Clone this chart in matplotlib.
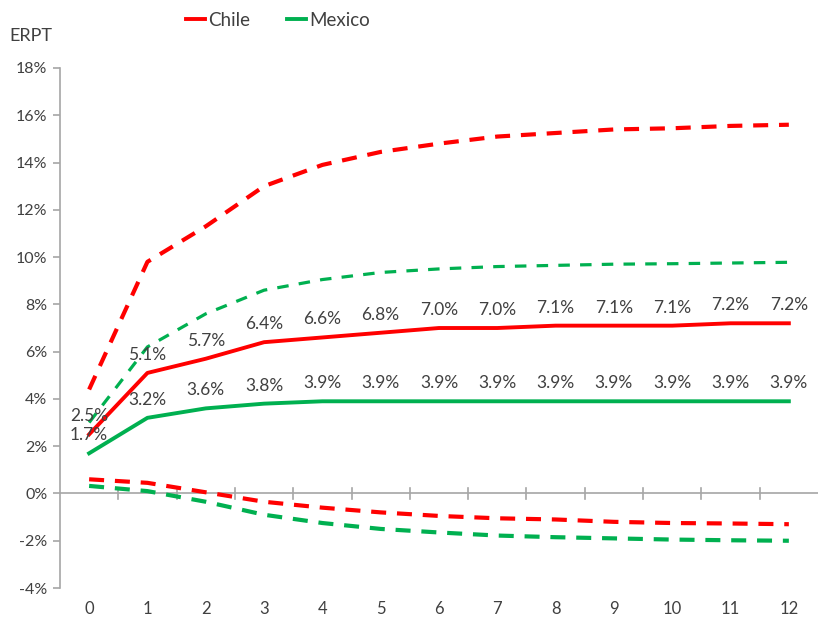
import matplotlib.pyplot as plt
from matplotlib.ticker import FuncFormatter

horizon = list(range(13))

chile = [2.5, 5.1, 5.7, 6.4, 6.6, 6.8, 7.0, 7.0, 7.1, 7.1, 7.1, 7.2, 7.2]
chile_hi = [4.4, 9.8, 11.3, 13.0, 13.9, 14.45, 14.8, 15.1, 15.25, 15.4, 15.45, 15.55, 15.6]
chile_lo = [0.6, 0.45, 0.05, -0.35, -0.6, -0.8, -0.95, -1.05, -1.1, -1.2, -1.25, -1.27, -1.3]

mexico = [1.7, 3.2, 3.6, 3.8, 3.9, 3.9, 3.9, 3.9, 3.9, 3.9, 3.9, 3.9, 3.9]
mexico_hi = [3.0, 6.2, 7.6, 8.6, 9.05, 9.35, 9.5, 9.6, 9.65, 9.7, 9.72, 9.75, 9.78]
mexico_lo = [0.32, 0.1, -0.35, -0.9, -1.25, -1.5, -1.65, -1.78, -1.85, -1.9, -1.95, -1.98, -2.0]

RED = '#ff0000'
GREEN = '#00b050'
GRAY = '#a6a6a6'
TXT = '#404040'

plt.rcParams['font.family'] = ['Lato', 'DejaVu Sans']

fig = plt.figure(figsize=(8.18, 6.21), dpi=100)
ax = fig.add_axes([0.0733, 0.0531, 0.9267, 0.8374])

ax.plot(horizon, chile_hi, color=RED, lw=3.0, dashes=(3.6, 2.6))
ax.plot(horizon, chile_lo, color=RED, lw=3.0, dashes=(3.6, 2.6))
ax.plot(horizon, mexico_hi, color=GREEN, lw=2.3, dashes=(3.6, 3.2))
ax.plot(horizon, mexico_lo, color=GREEN, lw=3.0, dashes=(3.6, 2.6))
ax.plot(horizon, chile, color=RED, lw=2.8, label='Chile')
ax.plot(horizon, mexico, color=GREEN, lw=2.8, label='Mexico')

for x, v in zip(horizon, chile):
    ax.annotate(f'{v:.1f}%', (x, v), xytext=(0, 13), textcoords='offset points',
                ha='center', va='center', fontsize=12.5, color=TXT)
for x, v in zip(horizon, mexico):
    ax.annotate(f'{v:.1f}%', (x, v), xytext=(0, 13), textcoords='offset points',
                ha='center', va='center', fontsize=12.5, color=TXT)

ax.set_xlim(-0.5, 12.5)
ax.set_ylim(-4, 18)
ax.set_yticks(range(-4, 19, 2))
ax.yaxis.set_major_formatter(FuncFormatter(lambda v, p: f'{v:.0f}%'))

# category axis crosses at zero, labels stay at the bottom
for s in ['top', 'right', 'bottom']:
    ax.spines[s].set_visible(False)
ax.spines['left'].set_color(GRAY)
ax.spines['left'].set_linewidth(1.2)
ax.axhline(0, color=GRAY, lw=1.2, zorder=0)
for b in [i + 0.5 for i in horizon[:-1]]:
    ax.plot([b, b], [-0.25, 0.25], color=GRAY, lw=1.2, zorder=0)

ax.set_xticks(horizon)
ax.tick_params(axis='x', length=0, pad=9, labelsize=12, labelcolor=TXT)
ax.tick_params(axis='y', length=5, width=1.2, color=GRAY, labelsize=11.5,
               labelcolor=TXT, pad=4)

fig.text(0.011, 0.942, 'ERPT', fontsize=13, color=TXT, va='center')
leg = fig.legend(loc='center', bbox_to_anchor=(0.34, 0.967), ncol=2, frameon=False,
                 fontsize=13.5, handlelength=1.0, handletextpad=0.15, columnspacing=2.0)
for t in leg.get_texts():
    t.set_color(TXT)

fig.savefig('out.png', dpi=100)
